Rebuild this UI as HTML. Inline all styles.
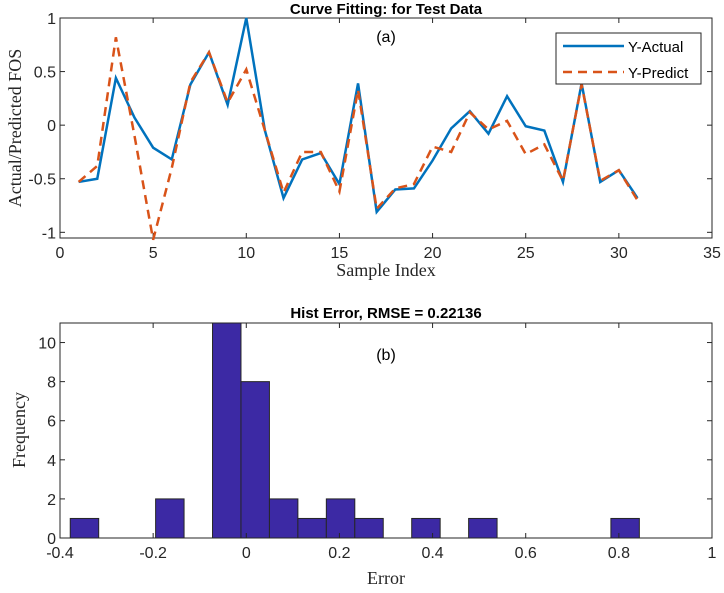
<!DOCTYPE html>
<html><head><meta charset="utf-8"><style>
body{margin:0;background:#fff;}
svg text{font-family:"Liberation Sans",sans-serif;}
</style></head><body>
<svg id="c" width="724" height="588" xmlns="http://www.w3.org/2000/svg"></svg>
<script>
const sampleIdx=[1,2,3,4,5,6,7,8,9,10,11,12,13,14,15,16,17,18,19,20,21,22,23,24,25,26,27,28,29,30,31];
const yActual=[-0.53,-0.50,0.44,0.07,-0.21,-0.32,0.38,0.68,0.19,1.0,-0.05,-0.68,-0.32,-0.26,-0.55,0.39,-0.81,-0.60,-0.59,-0.33,-0.03,0.13,-0.08,0.27,-0.01,-0.05,-0.53,0.39,-0.53,-0.42,-0.68];
const yPredict=[-0.53,-0.38,0.82,-0.10,-1.07,-0.40,0.40,0.68,0.21,0.52,-0.05,-0.63,-0.25,-0.25,-0.62,0.33,-0.78,-0.59,-0.55,-0.20,-0.25,0.12,-0.04,0.04,-0.27,-0.18,-0.52,0.38,-0.52,-0.42,-0.70];
const xTicksA=[0,5,10,15,20,25,30,35];
const yTicksA=[-1,-0.5,0,0.5,1];
const binStart=-0.378, binWidth=0.0611;
const binCounts=[1,0,0,2,0,11,8,2,1,2,1,0,1,0,1,0,0,0,0,1];
const xTicksB=[-0.4,-0.2,0,0.2,0.4,0.6,0.8,1];
const yTicksB=[0,2,4,6,8,10];

const svg=document.getElementById('c');
const NS='http://www.w3.org/2000/svg';
function mk(tag,attrs,parent){const e=document.createElementNS(NS,tag);for(const k in attrs)e.setAttribute(k,attrs[k]);(parent||svg).appendChild(e);return e;}
function txt(s,attrs){const e=mk('text',attrs);e.textContent=s;return e;}

// Plot A
const L=60,R=712,Ta=18,Ba=238;
const xA=v=>L+(v-0)/35*(R-L);
const yA=v=>Ta+(1-v)/(1-(-1.053))*(Ba-Ta);
mk('rect',{x:L,y:Ta,width:R-L,height:Ba-Ta,fill:'#fff',stroke:'#262626','stroke-width':1,});
xTicksA.forEach(t=>{
  const x=xA(t);
  const l=mk('line',{x1:x,x2:x,y1:Ba,y2:Ba-5,stroke:'#262626'});
  
  mk('line',{x1:x,x2:x,y1:Ta,y2:Ta+5,stroke:'#262626'});
  const e=txt(String(t),{x:x,y:Ba+20,'text-anchor':'middle','font-size':16,fill:'#262626'});
  
});
yTicksA.forEach(t=>{
  const y=yA(t);
  mk('line',{x1:L,x2:L+5,y1:y,y2:y,stroke:'#262626'});
  mk('line',{x1:R,x2:R-5,y1:y,y2:y,stroke:'#262626'});
  const e=txt(String(t),{x:L-4,y:y+6,'text-anchor':'end','font-size':16,fill:'#262626'});
  
});
const pa=mk('polyline',{points:sampleIdx.map((s,i)=>xA(s)+','+yA(yActual[i])).join(' '),fill:'none',stroke:'#0072BD','stroke-width':2.5});

const pp=mk('polyline',{points:sampleIdx.map((s,i)=>xA(s)+','+yA(yPredict[i])).join(' '),fill:'none',stroke:'#D95319','stroke-width':2.5,'stroke-dasharray':'9,6'});

txt('Curve Fitting: for Test Data',{x:386,y:14,'text-anchor':'middle','font-size':15,'font-weight':'bold',fill:'#000',});
txt('(a)',{x:386,y:42,'text-anchor':'middle','font-size':16,fill:'#000',});
txt('Sample Index',{x:386,y:276,'text-anchor':'middle','font-size':18,fill:'#262626',style:'font-family:"Liberation Serif",serif',});
txt('Actual/Predicted FOS',{x:0,y:0,transform:'translate(21,128) rotate(-90)','text-anchor':'middle','font-size':18,fill:'#262626',style:'font-family:"Liberation Serif",serif',});
// legend
const lg=mk('g',{});
mk('rect',{x:556,y:33,width:145,height:51,fill:'#fff',stroke:'#262626'},lg);
mk('line',{x1:563,x2:624,y1:46,y2:46,stroke:'#0072BD','stroke-width':2.5},lg);
mk('line',{x1:563,x2:624,y1:72,y2:72,stroke:'#D95319','stroke-width':2.5,'stroke-dasharray':'9,6'},lg);
const t1=mk('text',{x:628,y:52,'font-size':15,fill:'#000'},lg);t1.textContent='Y-Actual';
const t2=mk('text',{x:628,y:78,'font-size':15,fill:'#000'},lg);t2.textContent='Y-Predict';

// Plot B
const Tb=323,Bb=538;
const xB=v=>L+(v+0.4)/1.4*(R-L);
const yB=v=>Bb-v/11*(Bb-Tb);
mk('rect',{x:L,y:Tb,width:R-L,height:Bb-Tb,fill:'#fff',stroke:'#262626',});
binCounts.forEach((c,i)=>{
  const x0=xB(binStart+i*binWidth),x1=xB(binStart+(i+1)*binWidth);
  const r=mk('rect',{x:x0,y:yB(c),width:x1-x0,height:Bb-yB(c),fill:'#3C29A4',stroke:'#262626','stroke-width':1});
  
});
xTicksB.forEach(t=>{
  const x=xB(t);
  mk('line',{x1:x,x2:x,y1:Bb,y2:Bb-5,stroke:'#262626'});
  mk('line',{x1:x,x2:x,y1:Tb,y2:Tb+5,stroke:'#262626'});
  const e=txt(String(t),{x:x,y:Bb+20,'text-anchor':'middle','font-size':16,fill:'#262626'});
  
});
yTicksB.forEach(t=>{
  const y=yB(t);
  mk('line',{x1:L,x2:L+5,y1:y,y2:y,stroke:'#262626'});
  mk('line',{x1:R,x2:R-5,y1:y,y2:y,stroke:'#262626'});
  const e=txt(String(t),{x:L-4,y:y+6,'text-anchor':'end','font-size':16,fill:'#262626'});
  
});
txt('Hist Error, RMSE = 0.22136',{x:386,y:318,'text-anchor':'middle','font-size':15,'font-weight':'bold',fill:'#000',});
txt('(b)',{x:386,y:360,'text-anchor':'middle','font-size':16,fill:'#000',});
txt('Error',{x:386,y:584,'text-anchor':'middle','font-size':18,fill:'#262626',style:'font-family:"Liberation Serif",serif',});
txt('Frequency',{x:0,y:0,transform:'translate(25,430) rotate(-90)','text-anchor':'middle','font-size':18,fill:'#262626',style:'font-family:"Liberation Serif",serif',});
</script>
</body></html>
